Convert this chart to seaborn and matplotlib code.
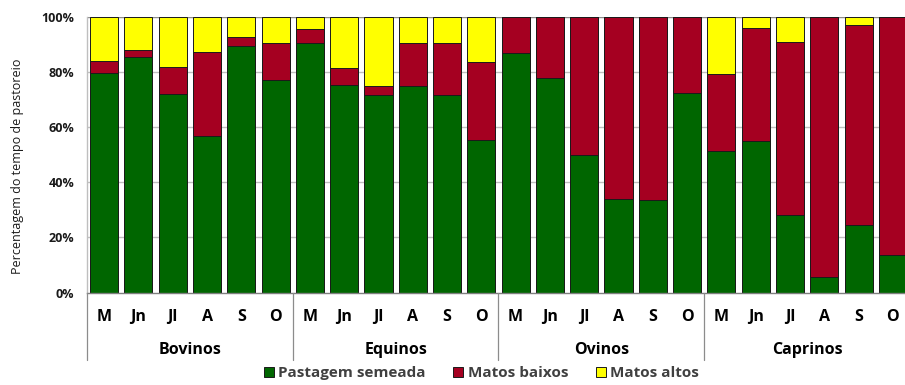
import matplotlib
matplotlib.use("Agg")
import matplotlib.pyplot as plt
from matplotlib.patches import Patch
import numpy as np
import pandas as pd
import seaborn as sns

# Grazing-time share per species and month (%)
especies = ["Bovinos", "Equinos", "Ovinos", "Caprinos"]
meses = ["M", "Jn", "Jl", "A", "S", "O"]

pastagem_semeada = [
    79.6, 85.5, 72.2, 56.8, 89.6, 77.1,   # Bovinos
    90.5, 75.3, 71.9, 75.2, 71.8, 55.3,   # Equinos
    86.9, 77.8, 50.1, 33.9, 33.5, 72.6,   # Ovinos
    51.5, 54.9, 28.0, 5.5, 24.6, 13.5,    # Caprinos
]
matos_baixos = [
    4.5, 2.5, 9.7, 30.5, 3.2, 13.4,
    5.2, 6.4, 3.1, 15.3, 18.7, 28.5,
    13.1, 22.2, 49.9, 66.1, 66.5, 27.4,
    28.0, 41.3, 62.9, 94.5, 72.7, 86.5,
]
matos_altos = [
    15.9, 12.0, 18.1, 12.7, 7.2, 9.5,
    4.3, 18.3, 25.0, 9.5, 9.5, 16.2,
    0.0, 0.0, 0.0, 0.0, 0.0, 0.0,
    20.5, 3.8, 9.1, 0.0, 2.7, 0.0,
]

cor_pastagem = "#006600"
cor_baixos = "#A50021"
cor_altos = "#FFFF00"

sns.set_theme(style="white")
plt.rcParams["font.family"] = ["Open Sans", "DejaVu Sans"]

chaves = [f"{e} {m}" for e in especies for m in meses]
df = pd.DataFrame({
    "chave": chaves,
    "pastagem": pastagem_semeada,
    "baixos": matos_baixos,
    "altos": matos_altos,
})
df["nivel_verde"] = df["pastagem"]
df["nivel_vermelho"] = df["pastagem"] + df["baixos"]
df["nivel_amarelo"] = df["pastagem"] + df["baixos"] + df["altos"]

fig = plt.figure(figsize=(9.05, 3.85), dpi=100)
ax = fig.add_axes([87 / 905, 92.5 / 385, 823 / 905, 275.2 / 385])

# gridlines behind the bars
for v in [20, 40, 60, 80]:
    ax.axhline(v, color="#BFBFBF", lw=1.0, zorder=0)
ax.axhline(100, color="#8C8C8C", lw=1.0, zorder=0)

largura = 0.82
comum = dict(data=df, x="chave", order=chaves, width=largura, errorbar=None,
             edgecolor="#1A1A1A", linewidth=0.7, ax=ax, zorder=2)
sns.barplot(y="nivel_amarelo", color=cor_altos, saturation=1, **comum)
sns.barplot(y="nivel_vermelho", color=cor_baixos, saturation=1, **comum)
sns.barplot(y="nivel_verde", color=cor_pastagem, saturation=1, **comum)

ax.set_xlim(-0.5, len(chaves) - 0.5)
ax.set_ylim(0, 100)
ax.set_yticks([0, 20, 40, 60, 80, 100])
ax.set_yticklabels(["0%", "20%", "40%", "60%", "80%", "100%"],
                   fontsize=9, fontweight="bold", color="#1A1A1A")
ax.tick_params(axis="y", length=0, pad=9)
ax.set_xticks([])
ax.set_xlabel("")
ax.set_ylabel("Percentagem do tempo de pastoreio", fontsize=9, color="#1A1A1A")
ax.yaxis.set_label_coords(-63 / 823, 126.5 / 275.2)

for lado in ["top", "right"]:
    ax.spines[lado].set_visible(False)
ax.spines["left"].set_color("#BFBFBF")
ax.spines["left"].set_linewidth(1.0)
ax.spines["bottom"].set_color("#7F7F7F")
ax.spines["bottom"].set_linewidth(1.0)

trans = ax.get_xaxis_transform()
# month labels
for i, chave in enumerate(chaves):
    ax.text(i, -0.089, chave.split(" ")[1], transform=trans, ha="center", va="center",
            fontsize=11.5, fontweight="bold", color="#000000")
# species labels and group separators
n = len(meses)
for g, esp in enumerate(especies):
    centro = g * n + (n - 1) / 2
    ax.text(centro, -0.209, esp, transform=trans, ha="center", va="center",
            fontsize=11.5, fontweight="bold", color="#000000")
for g in range(len(especies) + 1):
    xs = g * n - 0.5
    ax.plot([xs, xs], [0, -0.245], transform=trans, color="#8C8C8C", lw=0.9,
            clip_on=False, zorder=3)

handles = [
    Patch(facecolor=cor_pastagem, edgecolor="#1A1A1A", linewidth=0.7, label="Pastagem semeada"),
    Patch(facecolor=cor_baixos, edgecolor="#1A1A1A", linewidth=0.7, label="Matos baixos"),
    Patch(facecolor=cor_altos, edgecolor="#1A1A1A", linewidth=0.7, label="Matos altos"),
]
leg = fig.legend(handles=handles, loc="center", bbox_to_anchor=(0.532, 0.03), ncol=3,
                 frameon=False, handlelength=0.65, handleheight=0.65, handletextpad=0.3,
                 columnspacing=1.8, prop={"size": 11, "weight": "bold"})
for t in leg.get_texts():
    t.set_color("#404040")

fig.savefig("out.png", dpi=100)
